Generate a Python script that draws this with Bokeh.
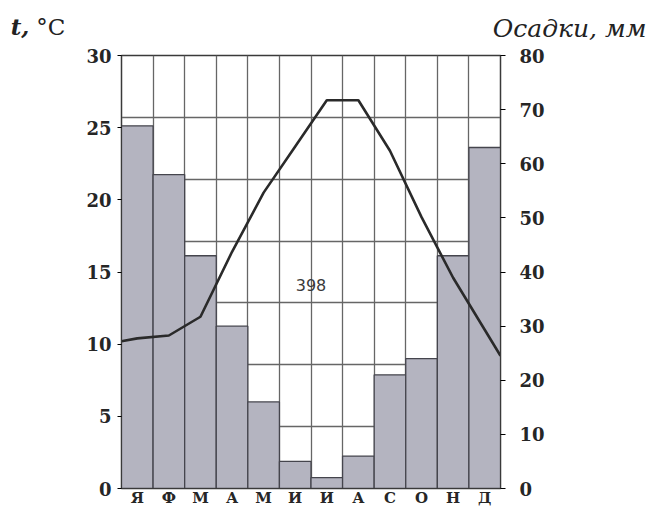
from bokeh.plotting import figure
from bokeh.models import Range1d, LinearAxis, FixedTicker, Label
from bokeh.embed import file_html
from bokeh.resources import INLINE

# ---- data ----
months = ["Я", "Ф", "М", "А", "М", "И", "И", "А", "С", "О", "Н", "Д"]
precip_mm = [67, 58, 43, 30, 16, 5, 2, 6, 21, 24, 43, 63]
temp_c = [10.4, 10.6, 11.9, 16.4, 20.5, 23.7, 26.9, 26.9, 23.4, 18.8, 14.6, 11.0]
temp_at_year_start = 10.2
temp_at_year_end = 9.2
annual_precip = 398
temp_ticks = [0, 5, 10, 15, 20, 25, 30]
precip_ticks = [0, 10, 20, 30, 40, 50, 60, 70, 80]

n = len(months)
centers = [i + 0.5 for i in range(n)]

p = figure(width=647, height=509, output_backend="svg", toolbar_location=None,
           x_range=Range1d(0, n), y_range=Range1d(0, 30),
           min_border_left=121, min_border_right=147, min_border_top=55,
           min_border_bottom=19)
p.extra_y_ranges = {"mm": Range1d(0, 80)}

p.outline_line_color = "#3a3a3a"
p.outline_line_width = 1.5
p.background_fill_color = "white"
p.border_fill_color = "white"

# grid
p.xgrid.ticker = FixedTicker(ticks=list(range(n + 1)))
p.ygrid.ticker = FixedTicker(ticks=[30 * k / 7 for k in range(1, 7)])
for g in (p.xgrid, p.ygrid):
    g.grid_line_color = "#666666"
    g.grid_line_width = 1.3
    g.grid_line_alpha = 1.0

# bars (precipitation, right axis)
p.vbar(x=centers, width=1.0, bottom=0, top=precip_mm, y_range_name="mm",
       fill_color="#b4b4c0", line_color="#45454d", line_width=1.3)

# temperature line
line_x = [0] + centers + [n]
line_y = [temp_at_year_start] + temp_c + [temp_at_year_end]
p.line(line_x, line_y, line_color="#2a2a2a", line_width=2.6)

font = "DejaVu Serif"

# x axis
p.xaxis.ticker = FixedTicker(ticks=centers)
p.xaxis.major_label_overrides = {c: m for c, m in zip(centers, months)}
p.xaxis.major_tick_out = 0
p.xaxis.major_tick_in = 0
p.xaxis.minor_tick_line_color = None
p.xaxis.major_label_standoff = 0
p.xaxis.major_label_text_font = font
p.xaxis.major_label_text_font_style = "bold"
p.xaxis.major_label_text_font_size = "15px"
p.xaxis.major_label_text_color = "#262626"
p.xaxis.axis_line_color = "#3a3a3a"

# left axis
p.yaxis.ticker = FixedTicker(ticks=temp_ticks)
p.yaxis.major_tick_out = 4
p.yaxis.major_tick_in = 0
p.yaxis.minor_tick_line_color = None
p.yaxis.major_label_standoff = 6
p.yaxis.major_label_text_font = font
p.yaxis.major_label_text_font_style = "bold"
p.yaxis.major_label_text_font_size = "18px"
p.yaxis.major_label_text_color = "#262626"
p.yaxis.axis_line_color = "#3a3a3a"

# right axis
ra = LinearAxis(y_range_name="mm", ticker=FixedTicker(ticks=precip_ticks))
ra.major_tick_out = 5
ra.major_tick_in = 0
ra.minor_tick_line_color = None
ra.major_label_standoff = 14
ra.major_label_text_font = font
ra.major_label_text_font_style = "bold"
ra.major_label_text_font_size = "18px"
ra.major_label_text_color = "#262626"
ra.axis_line_color = "#3a3a3a"
p.add_layout(ra, "right")

# titles (placed in side panels so they are not clipped to the frame)
p.add_layout(Label(x=-3.51, y=32.0, text="t,", text_font=font,
                   text_font_style="bold italic", text_font_size="23px",
                   text_baseline="middle", text_align="left", text_color="#222222"), "left")
p.add_layout(Label(x=-2.70, y=32.0, text="°C", text_font=font,
                   text_font_size="23px",
                   text_baseline="middle", text_align="left", text_color="#222222"), "left")
p.add_layout(Label(x=16.62, y=31.85, text="Осадки, мм", text_font=font,
                   text_font_style="italic", text_font_size="25px",
                   text_baseline="middle", text_align="right", text_color="#222222"), "above")

# annual total
p.add_layout(Label(x=6.0, y=14.1, text=str(annual_precip), text_font="DejaVu Sans",
                   text_font_size="16px", text_baseline="middle", text_align="center",
                   text_color="#3a3a3a"))

open("out.html", "w").write(file_html(p, INLINE))
